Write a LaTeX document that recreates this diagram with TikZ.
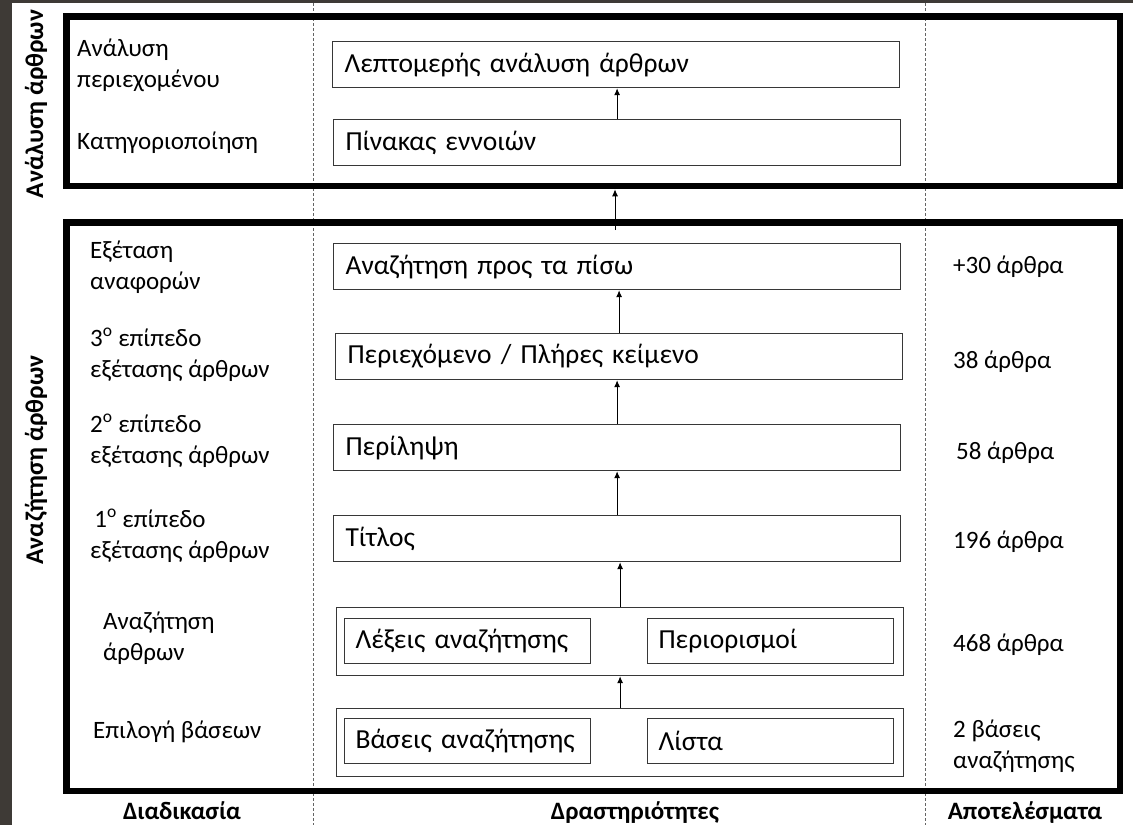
\documentclass[tikz,border=0pt]{standalone}
\usepackage{fontspec}
\setmainfont{Carlito}
\usetikzlibrary{arrows.meta}
\definecolor{bgdark}{RGB}{62,58,54}
\definecolor{boxline}{RGB}{55,55,55}
\definecolor{dashgray}{RGB}{100,100,100}
\begin{document}
\begin{tikzpicture}[x=1pt,y=-1pt,
  every node/.style={font=\fontsize{25}{31}\selectfont},
  frame/.style={draw=black,line width=6.5pt,inner sep=0pt,minimum width=1053.5pt},
  actbox/.style={draw=boxline,line width=1.2pt,fill=white,minimum height=46pt,text width=543pt,inner xsep=12pt,inner ysep=0pt,align=left,anchor=north west,font=\fontsize{27.5}{32}\selectfont},
  pairbox/.style={draw=boxline,line width=1.2pt,fill=white,minimum height=45pt,text width=224pt,inner xsep=11pt,inner ysep=0pt,align=left,anchor=north west,font=\fontsize{27.5}{32}\selectfont},
  outerbox/.style={draw=boxline,line width=1.2pt,minimum width=567pt,minimum height=68pt,inner sep=0pt,anchor=north west},
  lab/.style={anchor=base west,align=left,inner sep=0pt},
  head/.style={anchor=base,inner sep=0pt,font=\fontsize{25}{30}\selectfont\bfseries},
  side/.style={anchor=base,inner sep=0pt,rotate=90,font=\fontsize{25.5}{30}\selectfont\bfseries},
  conn/.style={-{Latex[length=7pt,width=6pt]},line width=1pt,draw=black},
  sep/.style={draw=dashgray,line width=1pt,dash pattern=on 3pt off 2pt}
]
\useasboundingbox (0,0) rectangle (1133,825);
% dark background edges
\fill[bgdark] (0,0) rectangle (12,825);
\fill[bgdark] (0,0) rectangle (1133,3);
% column separators
\coordinate (s1t) at (313,3);
\coordinate (s1b) at (313,825);
\coordinate (s2t) at (925,3);
\coordinate (s2b) at (925,825);
\draw[sep] (s1t) -- (s1b);
\draw[sep] (s2t) -- (s2b);
% thick frames
\node[frame,minimum height=169.5pt] (top) at (593.25,101.25) {};
\node[frame,minimum height=568.5pt] (bot) at (593.25,506.75) {};
% side labels
\node[side] (sideA) at (43,104) {Ανάλυση άρθρων};
\node[side] (sideB) at (43,460) {Αναζήτηση άρθρων};
% activity boxes
\node[actbox] (b1) at (332,41) {Λεπτομερής ανάλυση άρθρων};
\node[actbox] (b2) at (333,119) {Πίνακας εννοιών};
\node[actbox] (b3) at (333,243) {Αναζήτηση προς τα πίσω};
\node[actbox] (b4) at (335,333) {Περιεχόμενο / Πλήρες κείμενο};
\node[actbox] (b5) at (333,424) {Περίληψη};
\node[actbox] (b6) at (333,515) {Τίτλος};
\node[outerbox] (p1) at (336,607) {};
\node[pairbox] (p1a) at (344,618) {Λέξεις αναζήτησης};
\node[pairbox] (p1b) at (647,618) {Περιορισμοί};
\node[outerbox] (p2) at (336,708) {};
\node[pairbox] (p2a) at (344,718) {Βάσεις αναζήτησης};
\node[pairbox] (p2b) at (647,718) {Λίστα};
% connectors
\draw[conn] (b2.north) -- (b2.north |- b1.south);
\coordinate (a0) at (615,230);
\draw[conn] (a0) -- (a0 |- top.south);
\draw[conn] (b4.north) -- (b4.north |- b3.south);
\draw[conn] (b5.north) -- (b5.north |- b4.south);
\draw[conn] (b6.north) -- (b6.north |- b5.south);
\draw[conn] (p1.north) -- (p1.north |- b6.south);
\draw[conn] (p2.north) -- (p2.north |- p1.south);
% process labels (base = last line)
\node[lab] (l1) at (77,87) {Ανάλυση\\περιεχομένου};
\node[lab] (l2) at (77,149) {Κατηγοριοποίηση};
\node[lab] (l3) at (90,289) {Εξέταση\\αναφορών};
\node[lab] (l4) at (90,377) {3\textsuperscript{ο} επίπεδο\\εξέτασης άρθρων};
\node[lab] (l5) at (90,463) {2\textsuperscript{ο} επίπεδο\\εξέτασης άρθρων};
\node[lab] (l6) at (90,558) {\,1\textsuperscript{ο} επίπεδο\\εξέτασης άρθρων};
\node[lab] (l7) at (103,660) {Αναζήτηση\\άρθρων};
\node[lab] (l8) at (93,738) {Επιλογή βάσεων};
% results
\node[lab] (r1) at (953,273) {+30 άρθρα};
\node[lab] (r2) at (953,368) {38 άρθρα};
\node[lab] (r3) at (956,459) {58 άρθρα};
\node[lab] (r4) at (953,548) {196 άρθρα};
\node[lab] (r5) at (953,651) {468 άρθρα};
\node[lab] (r6) at (953,768) {2 βάσεις\\αναζήτησης};
% column headers
\node[head] (h1) at (182,819) {Διαδικασία};
\node[head] (h2) at (635,819) {Δραστηριότητες};
\node[head] (h3) at (1025,819) {Αποτελέσματα};
\end{tikzpicture}
\end{document}
